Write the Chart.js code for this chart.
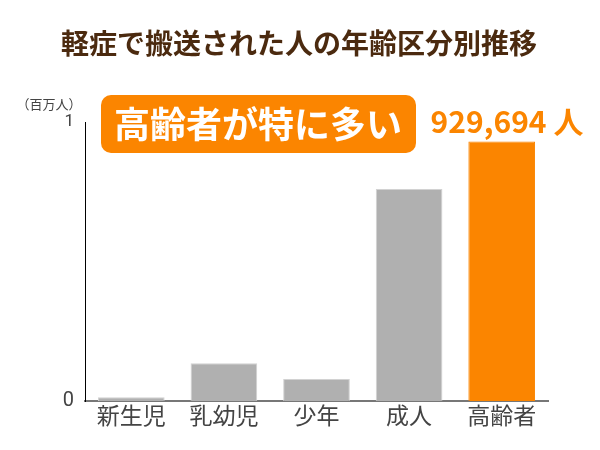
<!DOCTYPE html>
<html>
<head>
<meta charset="utf-8">
<script src="https://cdn.jsdelivr.net/npm/chart.js@4"></script>
<style>
  html, body { margin: 0; padding: 0; background: #fff; }
  #chart { display: block; }
</style>
</head>
<body>
<canvas id="chart" width="600" height="450"></canvas>
<script>
// values in millions of people
const categories = ['新生児', '乳幼児', '少年', '成人', '高齢者'];
const values = [0.013, 0.135, 0.079, 0.760, 0.929694];
const barColors = ['#b0b0b0', '#b0b0b0', '#b0b0b0', '#b0b0b0', '#fb8500'];
const yTicks = [0, 1];

const TITLE = '軽症で搬送された人の年齢区分別推移';
const UNIT = '（百万人）';
const CALLOUT = '高齢者が特に多い';
const JP_FONT = '"Noto Sans CJK JP", "Noto Sans", sans-serif';

// title, unit label and the orange callout
const decorPlugin = {
    id: 'decor',
    afterDraw(chart) {
        const ctx = chart.ctx;
        ctx.save();
        ctx.textAlign = 'center';
        ctx.textBaseline = 'middle';

        ctx.fillStyle = '#4b2a0f';
        ctx.font = 'bold 28px ' + JP_FONT;
        ctx.fillText(TITLE, 299, 43);

        ctx.fillStyle = '#444';
        ctx.font = '13px ' + JP_FONT;
        ctx.fillText(UNIT, 49, 104);

        // rounded box
        ctx.fillStyle = '#fb8500';
        ctx.beginPath();
        ctx.roundRect(101, 95, 315, 58, 10);
        ctx.fill();

        ctx.fillStyle = '#fff';
        ctx.font = 'bold 36px ' + JP_FONT;
        ctx.fillText(CALLOUT, 258, 124);

        // value label for the last bar
        const last = values.length - 1;
        const count = Math.round(values[last] * 1e6).toLocaleString('en-US');
        ctx.fillStyle = '#fb8500';
        ctx.font = 'bold 30px ' + JP_FONT;
        ctx.fillText(count + ' 人', 507, 122);

        ctx.restore();
    }
};

new Chart(document.getElementById('chart'), {
    type: 'bar',
    data: {
        labels: categories,
        datasets: [{
            data: values,
            backgroundColor: barColors,
            borderColor: barColors.map(c => c === '#b0b0b0' ? '#d2d2d2' : '#fb8500'),
            borderWidth: 1,
            borderSkipped: 'bottom',
            categoryPercentage: 1,
            barPercentage: 0.72
        }]
    },
    options: {
        responsive: false,
        animation: false,
        devicePixelRatio: 1,
        layout: { padding: { top: 122, right: 52, left: 0, bottom: 0 } },
        plugins: {
            legend: { display: false },
            title: { display: false },
            tooltip: { enabled: false }
        },
        scales: {
            x: {
                grid: { display: false, drawTicks: false },
                border: { display: true, color: '#777', width: 2 },
                ticks: {
                    color: '#444',
                    font: { family: JP_FONT, size: 23 },
                    padding: 0
                },
                afterFit(scale) { scale.height = 49; }
            },
            y: {
                min: 0,
                max: 1,
                grid: { display: false, drawTicks: false },
                border: { display: true, color: '#000', width: 1 },
                afterBuildTicks(scale) {
                    scale.ticks = yTicks.map(v => ({ value: v }));
                },
                ticks: {
                    color: '#444',
                    font: c => ({ family: 'Roboto, "Noto Sans", sans-serif', size: c.tick && c.tick.value === 0 ? 20 : 17 }),
                    padding: 11
                },
                afterFit(scale) { scale.width = 85; }
            }
        }
    },
    plugins: [decorPlugin]
});
</script>
</body>
</html>
